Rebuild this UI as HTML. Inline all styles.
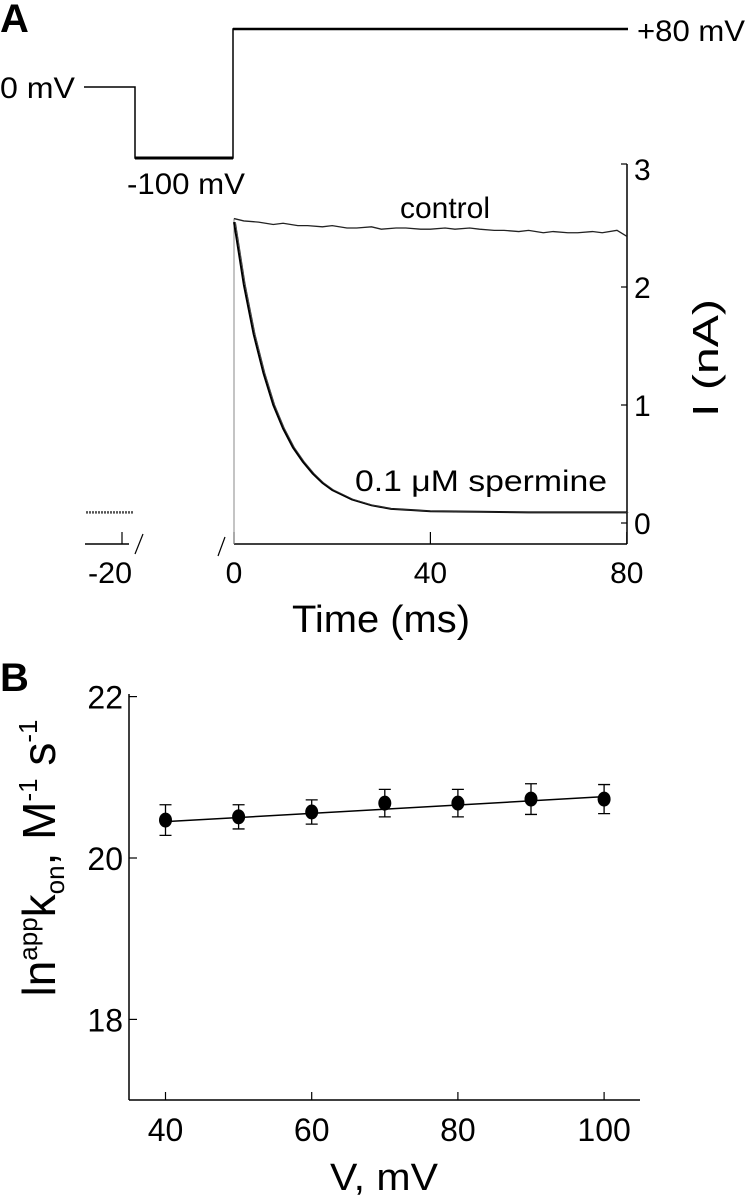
<!DOCTYPE html>
<html><head><meta charset="utf-8"><style>
html,body{margin:0;padding:0;background:#fff}
svg{display:block;font-family:"Liberation Sans",sans-serif}
</style></head><body>
<svg id="fig" width="746" height="1199" viewBox="0 0 746 1199">
<text x="0" y="32" font-size="40" font-weight="bold">A</text>
<text x="0" y="691" font-size="40" font-weight="bold">B</text>
<polyline points="84,87 135,87 135,158 233,158 233,29 628,29" fill="none" stroke="#000" stroke-width="1.5"/>
<line x1="135" y1="158" x2="233" y2="158" stroke="#000" stroke-width="3"/>
<line x1="233" y1="29" x2="628" y2="29" stroke="#000" stroke-width="2.5"/>
<text x="0" y="98" font-size="30" textLength="75" lengthAdjust="spacingAndGlyphs">0 mV</text>
<text x="127" y="194" font-size="30" textLength="118" lengthAdjust="spacingAndGlyphs">-100 mV</text>
<text x="637" y="41" font-size="30" textLength="108" lengthAdjust="spacingAndGlyphs">+80 mV</text>
<g id="pa"></g>
<g id="pb"></g>
</svg>
<script>
// Panel A data
const aTicksX = [0, 40, 80];
const aTicksY = [0, 1, 2, 3];
const controlT = [0,2,5,8,10,13,15,18,20,23,25,28,30,33,35,38,40,43,45,48,50,53,55,58,60,63,65,68,70,73,75,78,80];
const controlI = [2.58,2.56,2.55,2.53,2.54,2.52,2.52,2.51,2.52,2.50,2.50,2.51,2.49,2.50,2.50,2.49,2.49,2.50,2.49,2.50,2.49,2.48,2.48,2.47,2.48,2.46,2.47,2.46,2.46,2.47,2.46,2.48,2.43];
const spermT = [0,2,4,6,8,10,12,14,16,18,20,24,28,32,36,40,50,60,70,80];
const spermI = [2.55,2.02,1.6,1.27,1.0,0.80,0.64,0.52,0.42,0.34,0.28,0.20,0.15,0.12,0.11,0.10,0.095,0.09,0.09,0.09];
const preT = [-27,-17];
const preI = [0.09,0.09];
// Panel B data
const bV = [40,50,60,70,80,90,100];
const bY = [20.47,20.51,20.57,20.68,20.68,20.73,20.73];
const bErr = [0.19,0.15,0.15,0.17,0.17,0.19,0.18];
const fitV = [40,100];
const fitY = [20.45,20.76];
const bTicksX = [40,60,80,100];
const bTicksY = [18,20,22];

const NS='http://www.w3.org/2000/svg';
function mk(parent,tag,attrs){const e=document.createElementNS(NS,tag);for(const k in attrs)e.setAttribute(k,attrs[k]);parent.appendChild(e);return e;}

const ax = t => 234 + t*4.91;
const ay = v => 523 - v*118;
const pa = document.getElementById('pa');
let e;
e=mk(pa,'line',{x1:234,y1:544,x2:627,y2:544,stroke:'#000','stroke-width':1.5});


e=mk(pa,'line',{x1:85,y1:544,x2:129,y2:544,stroke:'#000','stroke-width':1.5});


e=mk(pa,'line',{x1:122,y1:532,x2:122,y2:544,stroke:'#000','stroke-width':1.2});


e=mk(pa,'text',{x:110,y:583,'font-size':30,'text-anchor':'middle',textLength:44,lengthAdjust:'spacingAndGlyphs'});e.textContent='-20';


e=mk(pa,'line',{x1:135,y1:554,x2:143,y2:534,stroke:'#000','stroke-width':1.2});


e=mk(pa,'line',{x1:218,y1:556,x2:225,y2:537,stroke:'#000','stroke-width':1.2});


e=mk(pa,'line',{x1:627,y1:164,x2:627,y2:544,stroke:'#000','stroke-width':1.5});


aTicksX.forEach(t=>{
  e=mk(pa,'line',{x1:ax(t),y1:532,x2:ax(t),y2:544,stroke:'#000','stroke-width':1.2});
  
  
  e=mk(pa,'text',{x:ax(t),y:583,'font-size':30,'text-anchor':'middle'});e.textContent=t;
  
  
});
aTicksY.forEach(v=>{
  e=mk(pa,'line',{x1:621,y1:ay(v)+(v===3?-5:0),x2:627,y2:ay(v)+(v===3?-5:0),stroke:'#000','stroke-width':1.2});
  
  
  e=mk(pa,'text',{x:634,y:ay(v)+11,'font-size':30});e.textContent=v;
  
  
});
e=mk(pa,'text',{x:718,y:358,'font-size':36,'text-anchor':'middle',transform:'rotate(-90 718 358)',textLength:118,lengthAdjust:'spacingAndGlyphs'});e.textContent='I (nA)';


e=mk(pa,'text',{x:381,y:632,'font-size':38,'text-anchor':'middle',textLength:178,lengthAdjust:'spacingAndGlyphs'});e.textContent='Time (ms)';


e=mk(pa,'line',{x1:234,y1:ay(2.58),x2:234,y2:544,stroke:'#888','stroke-width':1});


e=mk(pa,'polyline',{points:controlT.map((t,i)=>ax(t)+','+ay(controlI[i])).join(' '),fill:'none',stroke:'#222','stroke-width':1.3});


e=mk(pa,'polyline',{points:spermT.map((t,i)=>ax(t)+','+ay(spermI[i])).join(' '),fill:'none',stroke:'#000','stroke-width':2});


e=mk(pa,'polyline',{points:spermT.map((t,i)=>(ax(t)+1.5)+','+ay(spermI[i])).join(' '),fill:'none',stroke:'#333','stroke-width':0.8});


e=mk(pa,'polyline',{points:preT.map((t,i)=>(86+(t-preT[0])*4.8)+','+ay(preI[i])).join(' '),fill:'none',stroke:'#555','stroke-width':2.5,'stroke-dasharray':'2,1'});


e=mk(pa,'text',{x:445,y:218,'font-size':30,'text-anchor':'middle'});e.textContent='control';


e=mk(pa,'text',{x:355,y:491,'font-size':30,textLength:252,lengthAdjust:'spacingAndGlyphs'});e.textContent='0.1 \u03bcM spermine';



const bx = v => 165.5 + (v-40)*7.31;
const by = v => 858 - (v-20)*80.7;
const pb = document.getElementById('pb');
e=mk(pb,'line',{x1:129,y1:1100,x2:640,y2:1100,stroke:'#000','stroke-width':1.5});


e=mk(pb,'line',{x1:129,y1:694,x2:129,y2:1100,stroke:'#000','stroke-width':1.5});


bTicksX.forEach(v=>{
  e=mk(pb,'line',{x1:bx(v),y1:1100,x2:bx(v),y2:1092,stroke:'#000','stroke-width':1.2});
  
  
  e=mk(pb,'text',{x:bx(v),y:1141,'font-size':32,'text-anchor':'middle'});e.textContent=v;
  
  
});
bTicksY.forEach(v=>{
  e=mk(pb,'line',{x1:129,y1:by(v),x2:137,y2:by(v),stroke:'#000','stroke-width':1.2});
  
  
  e=mk(pb,'text',{x:123,y:by(v)+12,'font-size':32,'text-anchor':'end'});e.textContent=v;
  
  
});
e=mk(pb,'line',{x1:bx(fitV[0]),y1:by(fitY[0]),x2:bx(fitV[1]),y2:by(fitY[1]),stroke:'#000','stroke-width':1.5});


bV.forEach((v,i)=>{
  const x=bx(v),y1=by(bY[i]+bErr[i]),y2=by(bY[i]-bErr[i]);
  e=mk(pb,'path',{d:`M${x},${y1}V${y2}M${x-6},${y1}H${x+6}M${x-6},${y2}H${x+6}`,stroke:'#000','stroke-width':1.3,fill:'none'});
  
  
  e=mk(pb,'ellipse',{cx:x,cy:by(bY[i]),rx:6.5,ry:7.5,fill:'#000'});
  
  
});
e=mk(pb,'text',{x:384,y:1190,'font-size':38,'text-anchor':'middle',textLength:108,lengthAdjust:'spacingAndGlyphs'});e.textContent='V, mV';


const yt=mk(pb,'text',{x:55,y:858,'font-size':46,'text-anchor':'middle',transform:'rotate(-90 55 858)'});
yt.innerHTML='ln<tspan font-size="26" dy="-18">app</tspan><tspan dy="18">k</tspan><tspan font-size="26" dy="9">on</tspan><tspan dy="-9">, M</tspan><tspan font-size="26" dy="-18">-1</tspan><tspan dy="18"> s</tspan><tspan font-size="26" dy="-18">-1</tspan>';


</script>
</body></html>
